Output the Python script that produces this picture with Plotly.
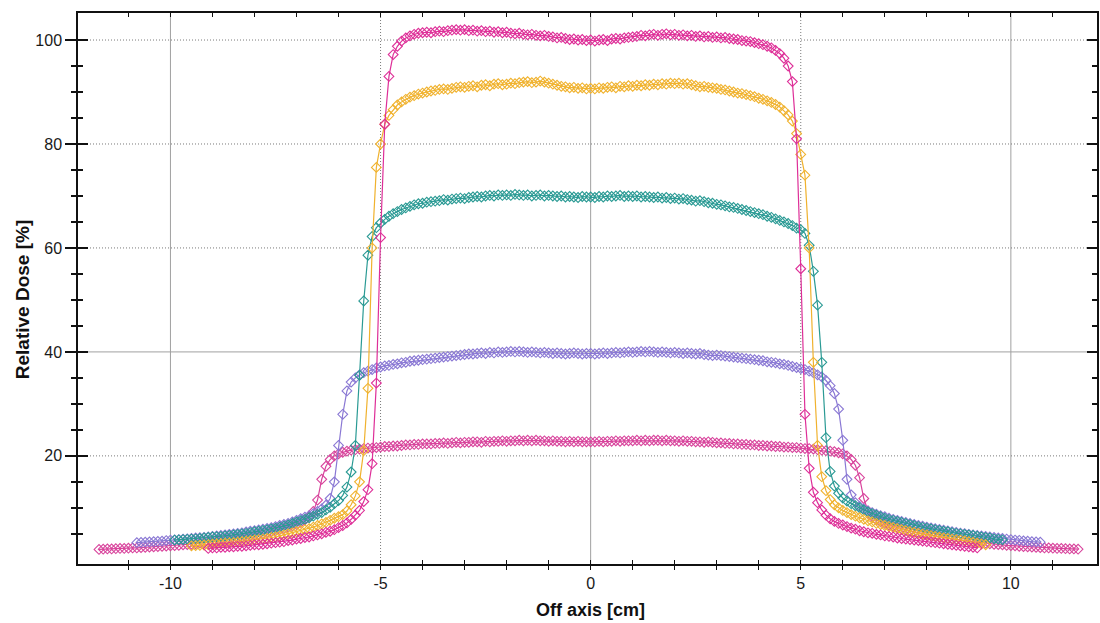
import plotly.graph_objects as go

# Sampling step of the scanned profiles (cm)
STEP = 0.1

# Profile 1 (magenta, highest): first point at -9.1 cm
start_p1 = -9.1
dose_p1 = [
    2.2,
    2.3, 2.3, 2.4, 2.4, 2.5, 2.5, 2.6, 2.6, 2.7, 2.8,
    2.9, 2.9, 3.0, 3.1, 3.2, 3.3, 3.4, 3.5, 3.7, 3.8,
    4.0, 4.1, 4.3, 4.4, 4.6, 4.8, 5.0, 5.3, 5.5, 5.8,
    6.2, 6.6, 7.1, 7.8, 8.6, 9.5, 11.2, 13.5, 18.5, 34.0,
    62.0, 83.8, 93.0, 97.2, 98.8, 99.8, 100.4, 100.8, 101.1, 101.3,
    101.4, 101.5, 101.4, 101.6, 101.7, 101.6, 101.8, 101.9, 102.0, 101.9,
    102.0, 101.8, 101.9, 101.7, 101.8, 101.6, 101.7, 101.5, 101.6, 101.4,
    101.5, 101.3, 101.2, 101.3, 101.1, 101.0, 101.1, 100.9, 100.8, 100.9,
    100.7, 100.6, 100.4, 100.5, 100.3, 100.1, 100.2, 100.0, 100.1, 99.9,
    100.0, 99.8, 100.0, 100.1, 99.9, 100.2, 100.3, 100.2, 100.4, 100.5,
    100.6, 100.7, 100.9, 100.8, 101.0, 101.1, 100.9, 101.1, 101.2, 101.0,
    101.1, 100.9, 101.0, 100.8, 100.9, 100.7, 100.8, 100.6, 100.7, 100.5,
    100.6, 100.4, 100.5, 100.3, 100.2, 100.1, 99.9, 99.8, 99.7, 99.5,
    99.3, 99.1, 98.8, 98.5, 98.0, 97.4, 96.5, 95.0, 92.0, 81.0,
    56.0, 28.0, 17.6, 13.0, 11.0, 9.6, 8.6, 7.9, 7.4, 7.0,
    6.7, 6.4, 6.1, 5.9, 5.6, 5.4, 5.2, 5.1, 4.9, 4.8,
    4.6, 4.5, 4.4, 4.2, 4.1, 4.0, 3.9, 3.8, 3.7, 3.6,
    3.5, 3.4, 3.3, 3.2, 3.1, 3.0, 2.9, 2.8, 2.7, 2.6,
    2.5, 2.4, 2.3,
]

# Profile 2 (yellow): first point at -9.5 cm
start_p2 = -9.5
dose_p2 = [
    2.7, 2.75, 2.8, 2.85, 2.9,
    3.0, 3.05, 3.1, 3.2, 3.25, 3.3, 3.4, 3.5, 3.6, 3.7,
    3.8, 3.9, 4.0, 4.1, 4.3, 4.4, 4.6, 4.8, 5.0, 5.2,
    5.4, 5.6, 5.8, 6.0, 6.3, 6.6, 6.9, 7.2, 7.6, 8.0,
    8.3, 8.7, 9.4, 10.6, 12.3, 15.0, 21.0, 33.0, 60.0, 75.5,
    80.0, 83.8, 85.5, 86.6, 87.5, 88.1, 88.6, 89.0, 89.3, 89.6,
    89.8, 90.0, 90.2, 90.3, 90.5, 90.6, 90.5, 90.7, 90.9, 91.0,
    90.9, 91.1, 91.2, 91.0, 91.3, 91.4, 91.2, 91.5, 91.6, 91.4,
    91.5, 91.7, 91.6, 91.8, 91.9, 92.0, 91.8, 91.9, 92.1, 91.9,
    91.7, 91.5, 91.3, 91.1, 91.0, 90.8, 90.9, 90.7, 90.8, 90.6,
    90.7, 90.6, 90.8, 90.7, 90.9, 91.0, 90.8, 91.1, 91.0, 91.2,
    91.1, 91.3, 91.2, 91.4, 91.3, 91.5, 91.4, 91.6, 91.5, 91.7,
    91.6, 91.7, 91.5, 91.6, 91.4, 91.2, 91.0, 91.1, 90.9, 90.8,
    90.7, 90.5, 90.4, 90.2, 90.0, 89.8, 89.7, 89.5, 89.3, 89.1,
    88.8, 88.6, 88.3, 88.0, 87.6, 87.1, 86.4, 85.6, 84.4, 82.0,
    78.0, 74.0, 60.0, 38.0, 22.0, 16.0, 13.3, 11.6, 10.6, 10.0,
    9.5, 9.1, 8.7, 8.4, 8.1, 7.8, 7.5, 7.3, 7.0, 6.8,
    6.6, 6.4, 6.2, 6.0, 5.8, 5.6, 5.4, 5.3, 5.1, 4.95,
    4.8, 4.65, 4.5, 4.35, 4.2, 4.1, 4.0, 3.9, 3.8, 3.65,
    3.5, 3.35, 3.2, 3.05, 2.9,
]

# Profile 3 (teal): first point at -9.9 cm
start_p3 = -9.9
dose_p3 = [
    3.8, 3.85, 3.9, 3.95, 4.0, 4.05, 4.1, 4.2, 4.3,
    4.4, 4.45, 4.5, 4.6, 4.7, 4.8, 4.9, 5.0, 5.1, 5.25,
    5.4, 5.5, 5.65, 5.8, 5.95, 6.1, 6.3, 6.5, 6.7, 7.0,
    7.3, 7.55, 7.8, 8.1, 8.4, 8.75, 9.1, 9.6, 10.1, 10.8,
    11.4, 12.4, 14.0, 16.9, 22.0, 35.5, 49.8, 58.6, 62.2, 63.9,
    64.8, 65.5, 66.1, 66.6, 67.0, 67.4, 67.7, 68.0, 68.3, 68.5,
    68.6, 68.8, 68.9, 69.0, 69.1, 69.3, 69.2, 69.4, 69.5, 69.6,
    69.5, 69.7, 69.8, 69.9, 69.8, 70.0, 70.1, 70.0, 70.2, 70.1,
    70.2, 70.1, 70.3, 70.2, 70.1, 70.2, 70.0, 70.1, 70.2, 70.0,
    70.1, 70.0, 69.9, 70.0, 69.8, 69.9, 69.8, 69.7, 69.9, 69.8,
    69.8, 69.7, 69.9, 69.8, 70.0, 69.9, 70.0, 70.1, 69.9, 70.0,
    69.9, 70.0, 69.8, 69.9, 69.8, 69.7, 69.8, 69.6, 69.7, 69.5,
    69.6, 69.4, 69.5, 69.3, 69.2, 69.0, 69.1, 68.9, 68.7, 68.6,
    68.4, 68.3, 68.1, 67.9, 67.8, 67.6, 67.4, 67.2, 67.0, 66.8,
    66.6, 66.4, 66.1, 65.9, 65.6, 65.3, 65.0, 64.7, 64.3, 63.8,
    63.5, 62.8, 60.5, 55.5, 49.0, 38.0, 23.5, 17.0, 14.2, 12.8,
    11.9, 11.3, 10.8, 10.4, 10.0, 9.6, 9.2, 8.9, 8.6, 8.3,
    8.0, 7.8, 7.6, 7.4, 7.2, 7.0, 6.8, 6.6, 6.4, 6.25,
    6.1, 5.95, 5.8, 5.65, 5.5, 5.4, 5.25, 5.1, 5.0, 4.9,
    4.8, 4.7, 4.55, 4.4, 4.3, 4.2, 4.05, 3.95, 3.85,
]

# Profile 4 (purple): first point at -10.8 cm
start_p4 = -10.8
dose_p4 = [
    3.3, 3.35, 3.4, 3.45, 3.5, 3.55, 3.6, 3.7,
    3.8, 3.85, 3.9, 4.0, 4.05, 4.1, 4.2, 4.25, 4.3, 4.4,
    4.5, 4.6, 4.7, 4.8, 4.9, 5.0, 5.1, 5.2, 5.35, 5.5,
    5.6, 5.75, 5.9, 6.05, 6.2, 6.4, 6.6, 6.8, 7.0, 7.3,
    7.6, 7.9, 8.2, 8.5, 8.9, 9.3, 9.8, 10.5, 11.8, 15.0,
    22.0, 28.0, 32.5, 34.2, 35.0, 35.6, 36.0, 36.3, 36.6, 36.9,
    37.1, 37.3, 37.4, 37.6, 37.7, 37.9, 38.0, 38.2, 38.3, 38.4,
    38.5, 38.6, 38.7, 38.8, 38.9, 39.0, 39.1, 39.2, 39.3, 39.4,
    39.5, 39.6, 39.6, 39.7, 39.8, 39.7, 39.9, 39.8, 40.0, 39.9,
    40.0, 40.1, 40.0, 40.1, 40.0, 39.9, 40.0, 39.9, 39.8, 39.9,
    39.8, 39.7, 39.8, 39.7, 39.6, 39.7, 39.8, 39.7, 39.6, 39.7,
    39.7, 39.6, 39.7, 39.8, 39.7, 39.8, 39.9, 39.8, 39.9, 40.0,
    39.9, 40.0, 40.1, 40.0, 40.1, 40.0, 39.9, 40.0, 39.9, 39.8,
    39.9, 39.8, 39.7, 39.8, 39.7, 39.6, 39.7, 39.5, 39.4, 39.3,
    39.4, 39.3, 39.2, 39.1, 39.0, 38.9, 38.8, 38.7, 38.6, 38.5,
    38.4, 38.3, 38.1, 38.0, 37.9, 37.7, 37.6, 37.4, 37.2, 37.0,
    36.8, 36.6, 36.3, 36.0, 35.6, 35.2, 34.5, 33.5, 32.0, 29.0,
    23.0, 15.5, 12.5, 11.0, 10.3, 9.8, 9.4, 9.1, 8.8, 8.5,
    8.3, 8.0, 7.8, 7.6, 7.4, 7.2, 7.0, 6.8, 6.6, 6.5,
    6.3, 6.15, 6.0, 5.85, 5.7, 5.55, 5.4, 5.3, 5.15, 5.05,
    4.9, 4.8, 4.7, 4.6, 4.5, 4.4, 4.3, 4.2, 4.1, 4.0,
    3.9, 3.8, 3.75, 3.65, 3.6, 3.5, 3.45, 3.4,
]

# Profile 5 (pink, lowest): first point at -11.7 cm
start_p5 = -11.7
dose_p5 = [
    2.0, 2.05, 2.1, 2.1, 2.15, 2.2, 2.2,
    2.25, 2.3, 2.3, 2.35, 2.4, 2.45, 2.5, 2.55, 2.6, 2.65,
    2.7, 2.75, 2.8, 2.9, 2.95, 3.0, 3.1, 3.2, 3.3, 3.4,
    3.5, 3.6, 3.7, 3.8, 3.9, 4.0, 4.1, 4.25, 4.4, 4.55,
    4.7, 4.85, 5.0, 5.2, 5.4, 5.6, 5.8, 6.0, 6.3, 6.55,
    6.8, 7.2, 7.7, 8.3, 9.3, 11.5, 15.5, 18.0, 19.3, 20.0,
    20.4, 20.7, 20.9, 21.1, 21.2, 21.3, 21.4, 21.5, 21.5, 21.6,
    21.7, 21.8, 21.8, 21.9, 21.9, 22.0, 22.1, 22.1, 22.2, 22.2,
    22.3, 22.3, 22.3, 22.4, 22.4, 22.5, 22.4, 22.5, 22.6, 22.5,
    22.6, 22.6, 22.7, 22.7, 22.6, 22.8, 22.7, 22.8, 22.8, 22.9,
    22.8, 22.9, 22.9, 23.0, 22.9, 23.0, 22.9, 23.0, 22.9, 22.9,
    22.8, 22.9, 22.8, 22.8, 22.7, 22.8, 22.7, 22.8, 22.7, 22.7,
    22.7, 22.7, 22.8, 22.7, 22.8, 22.8, 22.9, 22.8, 22.9, 22.9,
    22.9, 23.0, 22.9, 23.0, 22.9, 23.0, 23.0, 22.9, 23.0, 22.9,
    22.9, 22.8, 22.9, 22.8, 22.8, 22.7, 22.7, 22.6, 22.7, 22.6,
    22.5, 22.5, 22.4, 22.4, 22.3, 22.3, 22.2, 22.2, 22.1, 22.1,
    22.0, 22.0, 21.9, 21.9, 21.8, 21.8, 21.7, 21.7, 21.6, 21.6,
    21.5, 21.4, 21.4, 21.3, 21.2, 21.1, 21.0, 20.9, 20.8, 20.6,
    20.4, 20.0, 19.3, 18.2, 15.8, 11.8, 9.4, 8.3, 7.7, 7.3,
    7.0, 6.7, 6.45, 6.2, 6.0, 5.8, 5.6, 5.4, 5.2, 5.05,
    4.9, 4.75, 4.6, 4.45, 4.3, 4.2, 4.05, 3.95, 3.85, 3.7,
    3.6, 3.5, 3.4, 3.3, 3.2, 3.1, 3.0, 2.95, 2.9, 2.8,
    2.75, 2.7, 2.6, 2.55, 2.5, 2.45, 2.4, 2.35, 2.3, 2.3,
    2.25, 2.2, 2.2, 2.15, 2.1, 2.1, 2.05,
]

# Axis ticks and reference lines
x_major = [-10, -5, 0, 5, 10]
x_major_text = ["-10", "-5", "0", "5", "10"]
x_minor = [v for v in range(-11, 12) if v % 5 != 0]
y_major = [20, 40, 60, 80, 100]
y_minor = [v for v in range(5, 105, 5) if v % 20 != 0]
grid_solid_x = [-10, 0, 10]
grid_dot_x = [-5, 5]
grid_solid_y = [40]
grid_dot_y = [20, 60, 80, 100]

X_RANGE = [-12.2, 12.05]
Y_RANGE = [-0.8, 105.2]

profiles = [
    (start_p5, dose_p5, "#d8449c"),
    (start_p4, dose_p4, "#8a78d4"),
    (start_p3, dose_p3, "#2a9a94"),
    (start_p2, dose_p2, "#f0b22e"),
    (start_p1, dose_p1, "#de2f98"),
]


def positions(start, n):
    return [round(start + STEP * i, 2) for i in range(n)]


fig = go.Figure()
for start, dose, color in profiles:
    fig.add_trace(go.Scatter(
        x=positions(start, len(dose)), y=dose, mode="lines+markers",
        line=dict(color=color, width=1.2),
        marker=dict(symbol="diamond-open", size=7.5, color=color,
                    line=dict(width=1.1, color=color)),
        showlegend=False, hoverinfo="x+y",
    ))

# Empty trace so the overlaid axes (inner ticks, frame) are drawn
fig.add_trace(go.Scatter(x=[], y=[], xaxis="x2", yaxis="y2", showlegend=False))

dots = "1px,2px"
shapes = []
for gx in grid_solid_x:
    shapes.append(dict(type="line", xref="x", yref="paper", x0=gx, x1=gx, y0=0, y1=1,
                       line=dict(color="#a0a0a0", width=1), layer="below"))
for gx in grid_dot_x:
    shapes.append(dict(type="line", xref="x", yref="paper", x0=gx, x1=gx, y0=0, y1=1,
                       line=dict(color="#7a7a7a", width=1, dash=dots), layer="below"))
for gy in grid_solid_y:
    shapes.append(dict(type="line", xref="paper", yref="y", x0=0, x1=1, y0=gy, y1=gy,
                       line=dict(color="#a0a0a0", width=1), layer="below"))
for gy in grid_dot_y:
    shapes.append(dict(type="line", xref="paper", yref="y", x0=0, x1=1, y0=gy, y1=gy,
                       line=dict(color="#7a7a7a", width=1, dash=dots), layer="below"))

label_family = "Liberation Sans, Arial, sans-serif"
tick_font = dict(family=label_family, size=16, color="#1a1a1a")

fig.update_layout(
    width=1100, height=623,
    margin=dict(l=78, r=1, t=13, b=59),
    plot_bgcolor="white", paper_bgcolor="white",
    showlegend=False,
    shapes=shapes,
    xaxis=dict(
        range=X_RANGE, tickmode="array", tickvals=x_major, ticktext=x_major_text,
        ticks="outside", ticklen=4, tickwidth=1, tickcolor="#111",
        minor=dict(tickmode="array", tickvals=x_minor, ticks="outside",
                   ticklen=4, tickwidth=1, tickcolor="#111"),
        showline=True, linecolor="#111", linewidth=1.5,
        showgrid=False, zeroline=False, tickfont=tick_font,
    ),
    xaxis2=dict(
        range=X_RANGE, overlaying="x", anchor="y2", side="bottom",
        tickmode="array", tickvals=x_major,
        ticks="inside", ticklen=4, tickwidth=1, tickcolor="#111",
        minor=dict(tickmode="array", tickvals=x_minor, ticks="inside",
                   ticklen=4, tickwidth=1, tickcolor="#111"),
        showline=True, linecolor="#111", linewidth=1.5, mirror="ticks",
        showticklabels=False, showgrid=False, zeroline=False,
    ),
    yaxis=dict(
        range=Y_RANGE, tickmode="array", tickvals=y_major,
        ticks="outside", ticklen=11, tickwidth=1.5, tickcolor="#111",
        minor=dict(tickmode="array", tickvals=y_minor, ticks="outside",
                   ticklen=5, tickwidth=1.5, tickcolor="#111"),
        showline=True, linecolor="#111", linewidth=1.5,
        showgrid=False, zeroline=False, tickfont=tick_font,
    ),
    yaxis2=dict(
        range=Y_RANGE, overlaying="y", anchor="x2", side="left",
        tickmode="array", tickvals=y_major,
        ticks="inside", ticklen=10, tickwidth=1.5, tickcolor="#111",
        minor=dict(tickmode="array", tickvals=y_minor, ticks="inside",
                   ticklen=5, tickwidth=1.5, tickcolor="#111"),
        showline=True, linecolor="#111", linewidth=1.5, mirror="ticks",
        showticklabels=False, showgrid=False, zeroline=False,
    ),
    annotations=[
        dict(text="<b>Off axis [cm]</b>", xref="x", yref="paper", x=0, y=-0.0835,
             xanchor="center", yanchor="middle", showarrow=False,
             font=dict(family=label_family, size=18, color="#111")),
        dict(text="<b>Relative Dose [%]</b>", xref="paper", yref="paper",
             x=-0.0548, y=0.479, xanchor="center", yanchor="middle",
             textangle=-90, showarrow=False,
             font=dict(family=label_family, size=19, color="#111")),
    ],
)

fig.write_html("out.html")
